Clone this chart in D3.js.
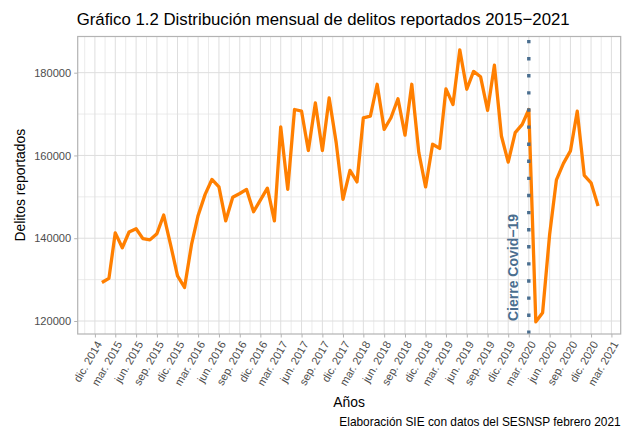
<!DOCTYPE html>
<html>
<head>
<meta charset="utf-8">
<script src="https://cdn.jsdelivr.net/npm/d3@7"></script>
<style>
  body { margin: 0; background: #fff; }
  svg { display: block; font-family: "Liberation Sans", Arial, sans-serif; }
</style>
</head>
<body>
<script>
// data: monthly reported crimes, Jan 2015 - Jan 2021
const values = [
  129300, 130300, 141300, 137700, 141500, 142300, 139900, 139600, 141100, 145600, 138300, 130900, // 2015
  128100, 138500, 145500, 150600, 154200, 152400, 144200, 149900, 150800, 151800, 146400, 149200, // 2016
  152100, 144200, 166900, 151800, 171100, 170700, 161200, 172700, 161200, 173900, 163100, 149400, // 2017
  156400, 153600, 169100, 169500, 177200, 166300, 169100, 173700, 164900, 177200, 160700, 152400, // 2018
  162700, 161700, 176100, 172300, 185500, 176000, 180300, 179000, 170900, 181800, 164700, 158400, // 2019
  165500, 167500, 171100, 119800, 122000, 140900, 154100, 158100, 161100, 170700, 155200, 153400, // 2020
  147800 // 2021
];
const firstMonth = new Date(2015, 0, 1);
const months = d3.timeMonth.range(firstMonth, new Date(2021, 1, 1));
const mesesAbr = ['ene.','feb.','mar.','abr.','may.','jun.','jul.','ago.','sep.','oct.','nov.','dic.'];
const yTicks = [120000, 140000, 160000, 180000];
const yMinor = [130000, 150000, 170000];
const cierre = new Date(2020, 2, 1);

const width = 625, height = 429;
const margin = {top: 36.5, right: 4.3, bottom: 95, left: 77.7};

let svg = d3.select('body').append('svg').attr('width', width).attr('height', height);

// scales
let x = d3.scaleTime()
  .domain([new Date(2014, 8, 16), new Date(2021, 3, 11)])
  .range([margin.left, width - margin.right]);
let y = d3.scaleLinear()
  .domain([116860, 188740])
  .range([height - margin.bottom, margin.top]);

let xTicks = d3.timeMonth.range(new Date(2014, 11, 1), new Date(2021, 3, 2), 3);
// minor breaks halfway between majors (ggplot style)
let xMinor = [];
for (let i = -1; i < xTicks.length; i++) {
  let a = i < 0 ? +xTicks[0] - (xTicks[1] - xTicks[0]) : +xTicks[i];
  let b = i < 0 ? +xTicks[0] : (i + 1 < xTicks.length ? +xTicks[i + 1] : +xTicks[i] + (xTicks[i] - xTicks[i - 1]));
  xMinor.push(new Date((a + b) / 2));
}

let x0 = margin.left, x1 = width - margin.right, y0 = margin.top, y1 = height - margin.bottom;

// grid
let grid = svg.append('g');
grid.selectAll('.ymin').data(yMinor).join('line')
  .attr('x1', x0).attr('x2', x1).attr('y1', d => y(d)).attr('y2', d => y(d))
  .attr('stroke', '#e3e3e3').attr('stroke-width', 0.7);
grid.selectAll('.xmin').data(xMinor.filter(d => x(d) > x0 && x(d) < x1)).join('line')
  .attr('x1', d => x(d)).attr('x2', d => x(d)).attr('y1', y0).attr('y2', y1)
  .attr('stroke', '#e3e3e3').attr('stroke-width', 0.7);
grid.selectAll('.ymaj').data(yTicks).join('line')
  .attr('x1', x0).attr('x2', x1).attr('y1', d => y(d)).attr('y2', d => y(d))
  .attr('stroke', '#dedede').attr('stroke-width', 1);
grid.selectAll('.xmaj').data(xTicks).join('line')
  .attr('x1', d => x(d)).attr('x2', d => x(d)).attr('y1', y0).attr('y2', y1)
  .attr('stroke', '#dedede').attr('stroke-width', 1);

// the series
let line = d3.line().x((d, i) => x(months[i])).y(d => y(d));
svg.append('path').datum(values).attr('d', line)
  .attr('fill', 'none').attr('stroke', '#ff7f00').attr('stroke-width', 3.3)
  .attr('stroke-linejoin', 'round');

// covid closure line, drawn bottom-up like ggplot
svg.append('line')
  .attr('x1', x(cierre)).attr('x2', x(cierre)).attr('y1', y1).attr('y2', y0)
  .attr('stroke', '#4a6e8f').attr('stroke-width', 3.4).attr('stroke-dasharray', '3.4,13.7');
svg.append('text')
  .attr('transform', `translate(${x(cierre) - 16},${y(120000)}) rotate(-90)`)
  .attr('dy', '0.35em').attr('font-size', 14).attr('font-weight', 'bold')
  .attr('fill', '#4a6e8f').text('Cierre Covid\u221219');

// panel border
svg.append('rect').attr('x', x0).attr('y', y0).attr('width', x1 - x0).attr('height', y1 - y0)
  .attr('fill', 'none').attr('stroke', '#b3b3b3').attr('stroke-width', 1.2);

// axes
let yAxis = svg.append('g').attr('transform', `translate(${x0},0)`)
  .call(d3.axisLeft(y).tickValues(yTicks).tickSize(3.5).tickPadding(3).tickFormat(d3.format('d')));
yAxis.select('.domain').remove();
yAxis.selectAll('line').attr('stroke', '#b3b3b3');
yAxis.selectAll('text').attr('fill', '#4d4d4d').attr('font-size', 11.1)
  .attr('font-family', '"Liberation Sans", Arial, sans-serif');

let xAxis = svg.append('g').attr('transform', `translate(0,${y1})`)
  .call(d3.axisBottom(x).tickValues(xTicks).tickSize(3.5)
    .tickFormat(d => mesesAbr[d.getMonth()] + ' ' + d.getFullYear()));
xAxis.select('.domain').remove();
xAxis.selectAll('line').attr('stroke', '#b3b3b3');
xAxis.selectAll('text')
  .attr('y', 0).attr('dy', 0)
  .attr('transform', 'translate(0,6) rotate(-60)')
  .attr('text-anchor', 'end').attr('dominant-baseline', 'hanging')
  .attr('fill', '#4d4d4d').attr('font-size', 11.1)
  .attr('font-family', '"Liberation Sans", Arial, sans-serif');

// titles
svg.append('text').attr('x', x0 - 1).attr('y', 25).attr('font-size', 16.8)
  .text('Gráfico 1.2 Distribución mensual de delitos reportados 2015\u22122021');
svg.append('text').attr('transform', `translate(25,${(y0 + y1) / 2}) rotate(-90)`)
  .attr('text-anchor', 'middle').attr('font-size', 13.9).text('Delitos reportados');
svg.append('text').attr('x', (x0 + x1) / 2).attr('y', 407).attr('text-anchor', 'middle')
  .attr('font-size', 13.9).text('Años');
svg.append('text').attr('x', x1).attr('y', 426).attr('text-anchor', 'end')
  .attr('font-size', 11.9).text('Elaboración SIE con datos del SESNSP febrero 2021');
</script>
</body>
</html>
